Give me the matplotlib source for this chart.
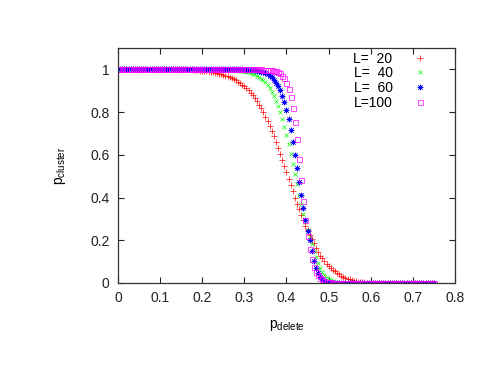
import numpy as np
import matplotlib
matplotlib.use('Agg')
import matplotlib.pyplot as plt

plt.rcParams['font.family'] = ['Liberation Sans', 'DejaVu Sans']
plt.rcParams['mathtext.fontset'] = 'custom'
plt.rcParams['mathtext.rm'] = 'Liberation Sans'

# p_delete 取值 0 ~ 0.75, 步长 0.005
p_delete = np.linspace(0, 0.75, 151)

L_labels = ['L=  20', 'L=  40', 'L=  60', 'L=100']

p_L20 = [1, 1, 1, 1, 1, 1, 1, 1, 1, 1,
         1, 1, 1, 1, 1, 1, 1, 1, 1, 1,
         1, 1, 1, 1, 1, 1, 1, 1, 1, 1,
         1, 1, 1, 1, 1, 1, 0.998, 0.997, 0.995, 0.994,
         0.992, 0.991, 0.990, 0.989, 0.987, 0.986, 0.984, 0.982, 0.980, 0.977,
         0.974, 0.971, 0.968, 0.964, 0.960, 0.955, 0.949, 0.943, 0.936, 0.929,
         0.921, 0.912, 0.901, 0.890, 0.878, 0.865, 0.850, 0.835, 0.818, 0.799,
         0.779, 0.758, 0.736, 0.712, 0.687, 0.661, 0.634, 0.606, 0.577, 0.547,
         0.518, 0.488, 0.458, 0.429, 0.400, 0.372, 0.345, 0.318, 0.293, 0.269,
         0.246, 0.225, 0.205, 0.186, 0.166, 0.147, 0.128, 0.115, 0.102, 0.090,
         0.080, 0.070, 0.062, 0.054, 0.047, 0.041, 0.035, 0.030, 0.025, 0.021,
         0.017, 0.014, 0.011, 0.009, 0.007, 0.005, 0.004, 0.003, 0.002, 0.002,
         0.001, 0.001, 0.001, 0, 0, 0, 0, 0, 0, 0,
         0, 0, 0, 0, 0, 0, 0, 0, 0, 0,
         0, 0, 0, 0, 0, 0, 0, 0, 0, 0,
         0]

p_L40 = [1, 1, 1, 1, 1, 1, 1, 1, 1, 1,
         1, 1, 1, 1, 1, 1, 1, 1, 1, 1,
         1, 1, 1, 1, 1, 1, 1, 1, 1, 1,
         1, 1, 1, 1, 1, 1, 1, 1, 1, 1,
         1, 1, 1, 1, 1, 1, 1, 1, 1, 1,
         0.999, 0.999, 0.998, 0.998, 0.997, 0.996, 0.996, 0.995, 0.994, 0.992,
         0.991, 0.989, 0.986, 0.983, 0.980, 0.976, 0.971, 0.965, 0.957, 0.949,
         0.939, 0.927, 0.913, 0.896, 0.877, 0.854, 0.829, 0.800, 0.767, 0.731,
         0.692, 0.649, 0.604, 0.557, 0.510, 0.462, 0.414, 0.369, 0.325, 0.284,
         0.247, 0.213, 0.182, 0.150, 0.122, 0.095, 0.072, 0.052, 0.037, 0.026,
         0.018, 0.012, 0.008, 0.005, 0.003, 0.002, 0.001, 0.001, 0, 0,
         0, 0, 0, 0, 0, 0, 0, 0, 0, 0,
         0, 0, 0, 0, 0, 0, 0, 0, 0, 0,
         0, 0, 0, 0, 0, 0, 0, 0, 0, 0,
         0, 0, 0, 0, 0, 0, 0, 0, 0, 0,
         0]

p_L60 = [1, 1, 1, 1, 1, 1, 1, 1, 1, 1,
         1, 1, 1, 1, 1, 1, 1, 1, 1, 1,
         1, 1, 1, 1, 1, 1, 1, 1, 1, 1,
         1, 1, 1, 1, 1, 1, 1, 1, 1, 1,
         1, 1, 1, 1, 1, 1, 1, 1, 1, 1,
         1, 1, 1, 1, 1, 1, 1, 1, 1, 1,
         0.999, 0.998, 0.998, 0.997, 0.996, 0.995, 0.993, 0.992, 0.989, 0.986,
         0.982, 0.977, 0.970, 0.962, 0.951, 0.938, 0.922, 0.901, 0.876, 0.845,
         0.808, 0.766, 0.716, 0.661, 0.601, 0.538, 0.474, 0.411, 0.351, 0.295,
         0.245, 0.200, 0.150, 0.105, 0.070, 0.045, 0.028, 0.017, 0.010, 0.006,
         0.003, 0.002, 0.001, 0, 0, 0, 0, 0, 0, 0,
         0, 0, 0, 0, 0, 0, 0, 0, 0, 0,
         0, 0, 0, 0, 0, 0, 0, 0, 0, 0,
         0, 0, 0, 0, 0, 0, 0, 0, 0, 0,
         0, 0, 0, 0, 0, 0, 0, 0, 0, 0,
         0]

p_L100 = [1, 1, 1, 1, 1, 1, 1, 1, 1, 1,
          1, 1, 1, 1, 1, 1, 1, 1, 1, 1,
          1, 1, 1, 1, 1, 1, 1, 1, 1, 1,
          1, 1, 1, 1, 1, 1, 1, 1, 1, 1,
          1, 1, 1, 1, 1, 1, 1, 1, 1, 1,
          1, 1, 1, 1, 1, 1, 1, 1, 1, 1,
          1, 1, 1, 1, 1, 1, 1, 1, 1, 0.999,
          0.999, 0.998, 0.997, 0.996, 0.994, 0.991, 0.987, 0.981, 0.971, 0.958,
          0.938, 0.910, 0.872, 0.821, 0.754, 0.673, 0.579, 0.480, 0.382, 0.293,
          0.218, 0.157, 0.111, 0.077, 0.053, 0.036, 0.025, 0.017, 0.011, 0.007,
          0.005, 0.003, 0.002, 0.001, 0, 0, 0, 0, 0, 0,
          0, 0, 0, 0, 0, 0, 0, 0, 0, 0,
          0, 0, 0, 0, 0, 0, 0, 0, 0, 0,
          0, 0, 0, 0, 0, 0, 0, 0, 0, 0,
          0, 0, 0, 0, 0, 0, 0, 0, 0, 0,
          0]

fig = plt.figure(figsize=(4.91, 3.79), dpi=100)
ax = fig.add_axes([0.2403, 0.2533, 0.6864, 0.6201])

# gnuplot 风格的点型: +, x, *, 空心方块
ax.plot(p_delete, p_L20, ls='none', marker='+', ms=4, mew=0.5, color='#ff0000', label=L_labels[0])
ax.plot(p_delete, p_L40, ls='none', marker='x', ms=3.5, mew=0.5, color='#00ff00', label=L_labels[1])
ax.plot(p_delete, p_L60, ls='none', marker=(8, 2, 0), ms=4, mew=0.5, color='#0000ff', label=L_labels[2])
ax.plot(p_delete, p_L100, ls='none', marker='s', ms=3.6, mew=0.5, mfc='none', color='#ff00ff', label=L_labels[3])

ax.set_xlim(0, 0.8)
ax.set_ylim(0, 1.1)
ax.set_xticks(np.arange(0, 0.81, 0.1))
ax.set_xticklabels(['0', '0.1', '0.2', '0.3', '0.4', '0.5', '0.6', '0.7', '0.8'])
ax.set_yticks([0, 0.2, 0.4, 0.6, 0.8, 1.0])
ax.set_yticklabels(['0', '0.2', '0.4', '0.6', '0.8', '1'])
ax.tick_params(direction='in', length=4, width=0.8, top=True, right=True, labelsize=10, pad=6, colors='#222222')
for sp in ax.spines.values():
    sp.set_linewidth(0.9)
    sp.set_color('#333333')

ax.set_xlabel(r'p$_\mathregular{delete}$', fontsize=10, labelpad=9)
ax.set_ylabel(r'p$_\mathregular{cluster}$', fontsize=10, labelpad=16)

ax.legend(loc='upper right', bbox_to_anchor=(0.926, 0.985), frameon=False, markerfirst=False,
          fontsize=10, borderpad=0, borderaxespad=0, handlelength=1.5, handletextpad=1.2,
          labelspacing=0.05)

plt.savefig('out.png', dpi=100)
